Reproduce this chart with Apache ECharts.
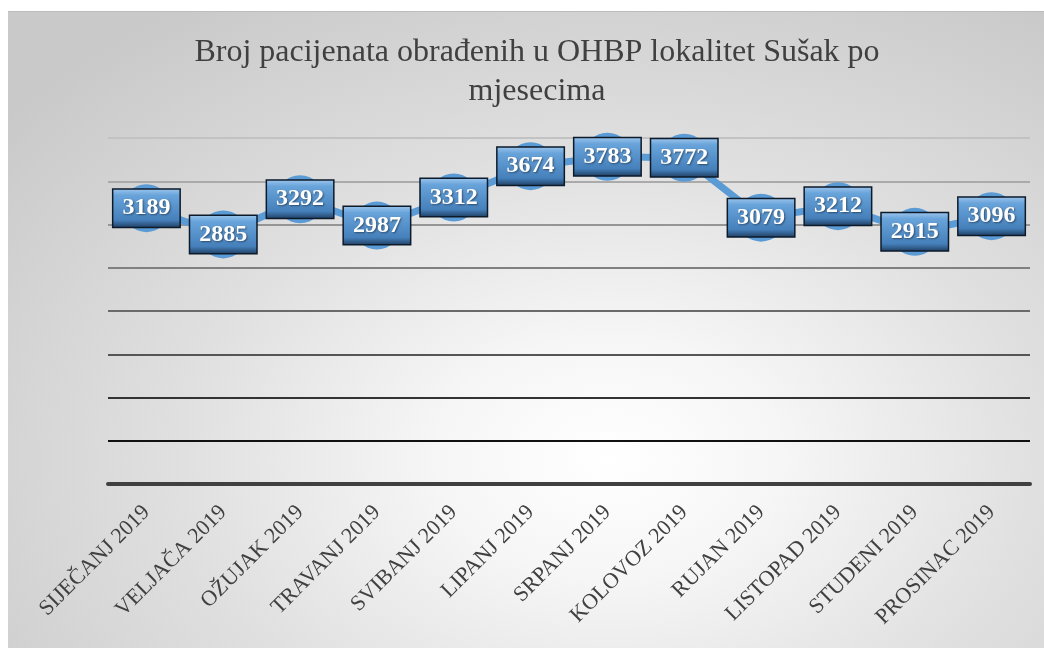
<!DOCTYPE html>
<html>
<head>
<meta charset="utf-8">
<script src="https://cdn.jsdelivr.net/npm/echarts@6/dist/echarts.min.js"></script>
<style>
  html, body { margin:0; padding:0; background:#ffffff; }
  #bg { position:absolute; left:8px; top:11px; width:1036px; height:637px;
        border-top:1px solid #bcbcbc;
        background: radial-gradient(ellipse 75% 85% at 58% 70%, #ffffff 0%, #f6f6f6 22%, #e0e0e0 55%, #c9c9c9 100%); }
  #chart { position:absolute; left:0; top:0; width:1044px; height:648px; }
</style>
</head>
<body>
<div id="bg"></div>
<div id="chart"></div>
<script>
const titleText = 'Broj pacijenata obrađenih u OHBP lokalitet Sušak po\nmjesecima';
const months = ['SIJEČANJ 2019','VELJAČA 2019','OŽUJAK 2019','TRAVANJ 2019','SVIBANJ 2019','LIPANJ 2019','SRPANJ 2019','KOLOVOZ 2019','RUJAN 2019','LISTOPAD 2019','STUDENI 2019','PROSINAC 2019'];
const patients = [3189, 2885, 3292, 2987, 3312, 3674, 3783, 3772, 3079, 3212, 2915, 3096];
const gridColors = ['#404040','#111111','#333333','#555555','#6a6a6a','#808080','#959595','#aaaaaa','#c2c2c2'];

const chart = echarts.init(document.getElementById('chart'), null, {renderer:'canvas'});
chart.setOption({
  backgroundColor: 'transparent',
  animation: false,
  title: {
    text: titleText,
    left: 532,
    textAlign: 'center',
    top: 28,
    textStyle: { fontFamily: 'Liberation Serif', fontSize: 32, fontWeight: 'normal', color: '#404040', lineHeight: 39 }
  },
  grid: { left: 108, right: 14, top: 138, bottom: 164, containLabel: false },
  xAxis: {
    type: 'category',
    data: months,
    boundaryGap: true,
    axisTick: { show: false },
    axisLine: { lineStyle: { color: '#404040', width: 4 } },
    axisLabel: { rotate: 45, margin: 25, fontFamily: 'Liberation Serif', fontSize: 22, color: '#404040' }
  },
  yAxis: {
    type: 'value',
    min: 0, max: 4000, interval: 500,
    axisLabel: { show: false },
    axisLine: { show: false },
    axisTick: { show: false },
    splitLine: { lineStyle: { color: gridColors, width: 2 } }
  },
  series: [{
    type: 'line',
    data: patients,
    symbol: 'circle',
    symbolSize: 48,
    itemStyle: { color: '#5b9bd5' },
    lineStyle: { color: '#5b9bd5', width: 7 },
    label: {
      show: true,
      position: 'inside',
      fontFamily: 'Liberation Serif',
      fontSize: 24,
      fontWeight: 'bold',
      color: '#ffffff',
      lineHeight: 24,
      padding: [7, 9, 6, 9],
      borderColor: '#0d1a2a',
      borderWidth: 1.5,
      textShadowColor: 'rgba(0,0,0,0.45)',
      textShadowBlur: 2,
      textShadowOffsetX: 1,
      textShadowOffsetY: 1,
      backgroundColor: {
        type: 'linear', x: 0, y: 0, x2: 0, y2: 1,
        colorStops: [
          { offset: 0, color: '#a0c8ee' },
          { offset: 0.18, color: '#68a3da' },
          { offset: 0.8, color: '#4580bb' },
          { offset: 1, color: '#1d3b5c' }
        ]
      }
    }
  }]
});
</script>
</body>
</html>
